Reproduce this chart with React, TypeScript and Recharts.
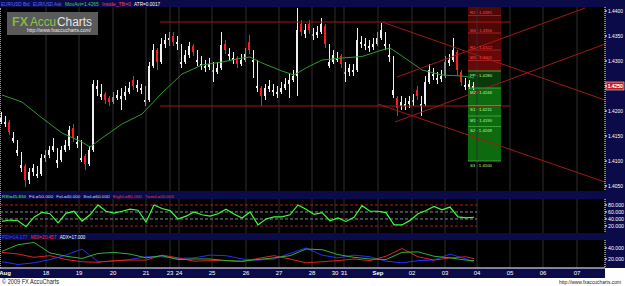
import React from 'react';
import { ComposedChart, Bar, Line, XAxis, YAxis, ReferenceLine, ReferenceArea } from 'recharts';

// 4-hour-ish bars, EUR/USD, Aug 17 - Sep 4 2009
const opens = [
  1.4178, 1.4174, 1.4178, 1.4140, 1.4116, 1.4086, 1.4090, 1.4062, 1.4078, 1.4070,
  1.4074, 1.4106, 1.4112, 1.4122, 1.4096, 1.4102, 1.4122, 1.4130, 1.4166, 1.4134,
  1.4102, 1.4110, 1.4094, 1.4122, 1.4244, 1.4228, 1.4234, 1.4226, 1.4218, 1.4226,
  1.4224, 1.4230, 1.4238, 1.4262, 1.4246, 1.4242, 1.4218, 1.4222, 1.4290, 1.4322,
  1.4298, 1.4334, 1.4342, 1.4350, 1.4334, 1.4294, 1.4298, 1.4312, 1.4330, 1.4298,
  1.4290, 1.4286, 1.4288, 1.4278, 1.4278, 1.4286, 1.4334, 1.4310, 1.4302, 1.4306,
  1.4294, 1.4302, 1.4338, 1.4298, 1.4246, 1.4246, 1.4230, 1.4244, 1.4238, 1.4234,
  1.4238, 1.4246, 1.4254, 1.4262, 1.4270, 1.4374, 1.4354, 1.4374, 1.4350, 1.4352,
  1.4358, 1.4370, 1.4290, 1.4298, 1.4302, 1.4310, 1.4274, 1.4278, 1.4278, 1.4282,
  1.4334, 1.4330, 1.4326, 1.4328, 1.4334, 1.4346, 1.4330, 1.4308, 1.4232, 1.4226,
  1.4210, 1.4210, 1.4214, 1.4218, 1.4242, 1.4210, 1.4214, 1.4258, 1.4270, 1.4262,
  1.4264, 1.4270, 1.4296, 1.4302, 1.4318, 1.4278, 1.4248, 1.4248, 1.4246,
];
const highs = [
  1.4198, 1.4190, 1.4182, 1.4158, 1.4142, 1.4118, 1.4094, 1.4086, 1.4094, 1.4090,
  1.4114, 1.4122, 1.4130, 1.4146, 1.4126, 1.4130, 1.4142, 1.4170, 1.4174, 1.4150,
  1.4142, 1.4114, 1.4130, 1.4262, 1.4262, 1.4254, 1.4238, 1.4230, 1.4238, 1.4242,
  1.4246, 1.4250, 1.4258, 1.4270, 1.4262, 1.4254, 1.4250, 1.4298, 1.4334, 1.4326,
  1.4346, 1.4354, 1.4358, 1.4358, 1.4350, 1.4334, 1.4322, 1.4338, 1.4334, 1.4322,
  1.4310, 1.4302, 1.4306, 1.4298, 1.4298, 1.4358, 1.4342, 1.4326, 1.4318, 1.4310,
  1.4314, 1.4326, 1.4352, 1.4322, 1.4302, 1.4250, 1.4254, 1.4262, 1.4254, 1.4250,
  1.4258, 1.4266, 1.4274, 1.4282, 1.4406, 1.4382, 1.4374, 1.4382, 1.4366, 1.4370,
  1.4386, 1.4374, 1.4334, 1.4322, 1.4318, 1.4314, 1.4298, 1.4294, 1.4294, 1.4366,
  1.4350, 1.4346, 1.4342, 1.4346, 1.4358, 1.4376, 1.4358, 1.4334, 1.4310, 1.4230,
  1.4230, 1.4226, 1.4230, 1.4234, 1.4250, 1.4230, 1.4270, 1.4294, 1.4286, 1.4278,
  1.4282, 1.4310, 1.4314, 1.4346, 1.4322, 1.4282, 1.4266, 1.4262, 1.4258,
];
const lows = [
  1.4174, 1.4168, 1.4152, 1.4136, 1.4110, 1.4078, 1.4048, 1.4054, 1.4070, 1.4066,
  1.4070, 1.4098, 1.4106, 1.4118, 1.4086, 1.4098, 1.4118, 1.4122, 1.4138, 1.4126,
  1.4098, 1.4082, 1.4090, 1.4118, 1.4230, 1.4222, 1.4214, 1.4210, 1.4214, 1.4222,
  1.4202, 1.4222, 1.4234, 1.4242, 1.4238, 1.4234, 1.4210, 1.4218, 1.4286, 1.4282,
  1.4294, 1.4326, 1.4330, 1.4330, 1.4322, 1.4286, 1.4294, 1.4306, 1.4310, 1.4290,
  1.4282, 1.4278, 1.4282, 1.4258, 1.4274, 1.4282, 1.4314, 1.4302, 1.4294, 1.4286,
  1.4290, 1.4298, 1.4314, 1.4266, 1.4238, 1.4210, 1.4222, 1.4238, 1.4230, 1.4226,
  1.4234, 1.4242, 1.4226, 1.4258, 1.4230, 1.4350, 1.4346, 1.4354, 1.4342, 1.4346,
  1.4354, 1.4326, 1.4286, 1.4294, 1.4298, 1.4286, 1.4258, 1.4270, 1.4270, 1.4278,
  1.4326, 1.4322, 1.4318, 1.4322, 1.4330, 1.4342, 1.4322, 1.4298, 1.4226, 1.4190,
  1.4202, 1.4202, 1.4206, 1.4210, 1.4222, 1.4190, 1.4210, 1.4254, 1.4262, 1.4254,
  1.4258, 1.4266, 1.4290, 1.4298, 1.4270, 1.4250, 1.4242, 1.4244, 1.4242,
];
const closes = [
  1.4186, 1.4178, 1.4158, 1.4146, 1.4122, 1.4092, 1.4062, 1.4078, 1.4086, 1.4074,
  1.4106, 1.4112, 1.4122, 1.4130, 1.4102, 1.4122, 1.4132, 1.4162, 1.4146, 1.4138,
  1.4106, 1.4094, 1.4122, 1.4254, 1.4250, 1.4234, 1.4222, 1.4218, 1.4228, 1.4232,
  1.4230, 1.4238, 1.4246, 1.4250, 1.4252, 1.4246, 1.4222, 1.4290, 1.4322, 1.4298,
  1.4334, 1.4342, 1.4346, 1.4338, 1.4338, 1.4298, 1.4312, 1.4330, 1.4318, 1.4302,
  1.4294, 1.4290, 1.4294, 1.4282, 1.4286, 1.4332, 1.4322, 1.4314, 1.4306, 1.4294,
  1.4302, 1.4314, 1.4322, 1.4302, 1.4250, 1.4230, 1.4246, 1.4250, 1.4242, 1.4238,
  1.4246, 1.4254, 1.4262, 1.4270, 1.4362, 1.4358, 1.4362, 1.4362, 1.4354, 1.4358,
  1.4374, 1.4334, 1.4298, 1.4312, 1.4306, 1.4294, 1.4278, 1.4286, 1.4282, 1.4342,
  1.4338, 1.4334, 1.4330, 1.4334, 1.4346, 1.4362, 1.4334, 1.4312, 1.4242, 1.4206,
  1.4218, 1.4214, 1.4220, 1.4222, 1.4230, 1.4214, 1.4258, 1.4282, 1.4274, 1.4266,
  1.4270, 1.4298, 1.4302, 1.4322, 1.4282, 1.4258, 1.4252, 1.4254, 1.4250,
];

// moving average, read at a subset of bars
const maIdx = [0, 5, 10, 15, 20, 22, 25, 30, 35, 40, 45, 50, 55, 60, 62, 65, 70, 73, 76, 80, 85, 90, 95, 97, 100, 105, 110, 115, 118];
const maVals = [
  1.4232, 1.4218, 1.4186, 1.4156, 1.4138, 1.4128, 1.4146, 1.4174, 1.4194, 1.4236,
  1.4274, 1.4292, 1.4298, 1.4306, 1.4308, 1.4296, 1.4280, 1.4272, 1.4286, 1.4302,
  1.4306, 1.4309, 1.4322, 1.4326, 1.4310, 1.4282, 1.4272, 1.4270, 1.4266,
];

// RSI every second bar
const rsiVals = [
  33, 37, 35, 18, 45, 59, 55, 29, 56, 62, 34, 52, 80, 62, 57, 62, 68, 65, 31, 80,
  70, 64, 40, 48, 60, 52, 48, 55, 68, 54, 43, 60, 23, 40, 46, 46, 52, 80, 68, 53,
  58, 35, 43, 33, 45, 78, 62, 62, 58, 23, 23, 36, 55, 64, 76, 66, 74, 46, 43, 45,
];
const rsiIdx = rsiVals.map((_, k) => k * 2);

// directional movement, every fourth bar
const dmiIdx = [0, 4, 8, 12, 16, 20, 24, 28, 32, 36, 40, 44, 48, 52, 56, 60, 64, 68, 72, 76, 80, 84, 88, 92, 96, 100, 104, 108, 112, 116, 118];
const pdiVals = [15, 10, 13, 19, 27, 38, 15, 16, 19, 24, 24, 21, 22, 27, 26, 20, 18, 20, 30, 40, 27, 22, 27, 24, 16, 13, 17, 18, 29, 20, 14];
const mdiVals = [32, 29, 23, 26, 19, 15, 14, 17, 18, 18, 27, 22, 16, 17, 17, 15, 21, 26, 20, 13, 15, 17, 20, 17, 25, 39, 24, 18, 22, 24, 20.5];
const adxVals = [34, 46, 50, 31, 25, 21, 30, 32, 29, 22, 26, 19, 20, 20, 17, 16, 19, 22, 26, 38, 37, 28, 23, 20, 19, 32, 33, 25, 22, 18, 17];

// day labels on the bar axis
const dayTicks = [0.75, 11, 19.25, 27.75, 36, 42, 44.25, 52.5, 61, 69.25, 77.5, 83.25, 85.5, 94, 102.5, 110.75, 118.75, 127, 135.25, 143.75];
const dayLabels = ['Aug', '18', '19', '20', '21', '23', '24', '25', '26', '27', '28', '30', '31', 'Sep', '02', '03', '04', '05', '06', '07'];

const priceTicks = [1.405, 1.41, 1.415, 1.42, 1.425, 1.43, 1.435, 1.44];

// daily pivots for Sep 04
const pivotNames = ['R2', 'M4', 'R1', 'M3', 'PP', 'M2', 'S1', 'M1', 'S2', 'S3'];
const pivotVals = [1.4391, 1.4356, 1.4322, 1.4301, 1.428, 1.4246, 1.4211, 1.419, 1.4169, 1.41];
const pivotSpan = [116.5, 124.75];

// drawn lines: [x1, y1, x2, y2]
const trendLines = [
  [39.5, 1.4378, 127, 1.4378],
  [39.5, 1.421, 127, 1.421],
  [95, 1.4378, 150.75, 1.4222],
  [94, 1.4214, 150.75, 1.4058],
  [98.25, 1.4178, 150.75, 1.4334],
  [98.75, 1.4268, 145.75, 1.4406],
];

// header texts: [text, colour]
const titleParts = [
  ['EUR/USD Bid', '#5a68ff'],
  ['EUR/USD Ask', '#5a68ff'],
  ['MovAvt=1.4265', '#3fd23f'],
  ['Inside_TB=0', '#ff3a6a'],
  ['ATR=0.0017', '#ffffff'],
];
const rsiParts = [
  ['RSI=45.834', '#3cff3c'],
  ['FiL=50.000', '#c8d8ff'],
  ['FoL=40.000', '#c8d8ff'],
  ['SixL=60.000', '#c8d8ff'],
  ['EighL=80.000', '#ff3030'],
  ['TwenL=20.000', '#ff3030'],
];
const dmiParts = [
  ['PDI=14.177', '#3a48ff'],
  ['MDI=20.457', '#ff3030'],
  ['ADX=17.000', '#e8ffe8'],
];

const X_DOMAIN: [number, number] = [-0.5, 150.75];
const NAVY = '#0b0b4a';
const FONT = 'Liberation Sans, Arial, sans-serif';

const pick = (idx: number[], vals: number[], i: number) => {
  const k = idx.indexOf(i);
  return k < 0 ? null : vals[k];
};

const rows = closes.map((c, i) => ({
  i,
  open: opens[i],
  high: highs[i],
  low: lows[i],
  close: c,
  hl: [lows[i], highs[i]],
  ma: pick(maIdx, maVals, i),
  rsi: pick(rsiIdx, rsiVals, i),
  pdi: pick(dmiIdx, pdiVals, i),
  mdi: pick(dmiIdx, mdiVals, i),
  adx: pick(dmiIdx, adxVals, i),
}));
const lastClose = closes[closes.length - 1];

function renderCandle(p: any) {
  const { x, y, width, height, payload } = p;
  if (!payload || !isFinite(y) || !isFinite(height)) return <g />;
  const top = Math.min(y, y + height);
  const h = Math.abs(height);
  const span = payload.high - payload.low;
  const py = (v: number) => top + (span > 0 ? ((payload.high - v) / span) * h : 0);
  const cx = Math.floor(x + width / 2);
  const up = payload.close >= payload.open;
  const col = up ? '#f0f0f0' : '#ff1c1c';
  const b1 = py(Math.max(payload.open, payload.close));
  const b2 = py(Math.min(payload.open, payload.close));
  return (
    <g>
      <rect x={cx} y={top} width={1} height={Math.max(h, 1)} fill={col} />
      <rect x={cx - 1} y={b1} width={2} height={Math.max(b2 - b1, 1)} fill={col} />
    </g>
  );
}

const axisTick = (digits: number, w: number) => (p: any) => (
  <text x={p.x} y={p.y + 2} fill="#fff" fontSize={5.5} fontFamily={FONT} textLength={w} lengthAdjust="spacingAndGlyphs">
    {Number(p.payload.value).toFixed(digits)}
  </text>
);

const dayTick = (p: any) => {
  const label = dayLabels[dayTicks.indexOf(p.payload.value)];
  const bold = label === 'Aug' || label === 'Sep';
  return (
    <text x={p.x} y={p.y + 7} textAnchor="middle" fill="#fff" fontSize={6} fontFamily={FONT} fontWeight={bold ? 'bold' : 'normal'}>
      {label}
    </text>
  );
};

const levelLabel = (text: string, fill: string, above: boolean) => (p: any) => {
  const vb = p.viewBox || {};
  return (
    <text x={vb.x + 2} y={above ? vb.y - 1.2 : vb.y + 5.5} fill={fill} fontSize={4.2} fontFamily={FONT} textLength={22} lengthAdjust="spacingAndGlyphs">
      {text}
    </text>
  );
};

const priceFlag = (p: any) => {
  const vb = p.viewBox || {};
  const x0 = vb.x + vb.width + 1;
  return (
    <g>
      <rect x={x0} y={vb.y - 4} width={18} height={8} fill="#c81818" stroke="#fff" strokeWidth={0.5} />
      <text x={x0 + 1.5} y={vb.y + 2.2} fill="#fff" fontSize={5.5} fontFamily={FONT} textLength={15} lengthAdjust="spacingAndGlyphs">
        {lastClose.toFixed(4)}
      </text>
    </g>
  );
};

// a caption line laid out left to right, each piece squeezed to a fixed pitch per character
const caption = (parts: string[][], x0: number, y: number, pitch: number) => {
  let x = x0;
  const fs = pitch / 0.56;
  return parts.map(([t, c], k) => {
    const w = t.length * pitch;
    const el = (
      <text key={k} x={x} y={y} fill={c} fontSize={fs} fontFamily={FONT} textLength={w} lengthAdjust="spacingAndGlyphs">
        {t}
      </text>
    );
    x += w + pitch * 1.3;
    return el;
  });
};

const dayLines = () =>
  dayTicks.slice(1).map((t) => <ReferenceLine key={'d' + t} x={t} stroke="#2e2e2e" strokeWidth={1} />);

const margin = { top: 0, right: 0, bottom: 0, left: 0 };

const box = (left: number, top: number, width: number, height: number, bg: string): React.CSSProperties => ({
  position: 'absolute', left, top, width, height, background: bg,
});

export default function App() {
  return (
    <div style={{ position: 'relative', width: 625, height: 286, background: '#fff', overflow: 'hidden', fontFamily: FONT }}>
      <style>{'body{margin:0}'}</style>
      <div style={box(0, 0, 625, 7, NAVY)} />
      <div style={box(0, 7, 605, 184, '#000')} />
      <div style={box(0, 191, 625, 8, NAVY)} />
      <div style={box(0, 199, 605, 34, '#000')} />
      <div style={box(0, 233, 625, 7, NAVY)} />
      <div style={box(0, 240, 605, 28, '#000')} />
      <div style={box(605, 7, 20, 261, NAVY)} />
      <div style={box(0, 268, 605, 10, NAVY)} />
      <div style={{ ...box(0, 8, 1, 260, 'transparent'), borderLeft: '1px dotted #999' }} />

      {/* price panel */}
      <div style={{ position: 'absolute', left: 0, top: 7 }}>
        <ComposedChart width={625} height={184} data={rows} margin={margin}>
          <XAxis type="number" dataKey="i" domain={X_DOMAIN} allowDataOverflow hide />
          <YAxis
            orientation="right" width={20} domain={[1.404, 1.4408]} allowDataOverflow
            ticks={priceTicks} interval={0} tick={axisTick(4, 15)} tickSize={2} tickMargin={1}
            axisLine={{ stroke: '#fff', strokeDasharray: '1 1' }} tickLine={{ stroke: '#fff' }}
          />
          {dayLines()}
          <ReferenceArea x1={pivotSpan[0]} x2={pivotSpan[1]} y1={pivotVals[2]} y2={1.4408} fill="#520707" fillOpacity={1} stroke="none" />
          <ReferenceArea x1={pivotSpan[0]} x2={pivotSpan[1]} y1={pivotVals[4]} y2={pivotVals[2]} fill="#680909" fillOpacity={1} stroke="none" />
          <ReferenceArea x1={pivotSpan[0]} x2={pivotSpan[1]} y1={pivotVals[5]} y2={pivotVals[4]} fill="#0a3a0a" fillOpacity={1} stroke="none" />
          <ReferenceArea x1={pivotSpan[0]} x2={pivotSpan[1]} y1={pivotVals[9]} y2={pivotVals[5]} fill="#0e6a0e" fillOpacity={1} stroke="none" />
          <Bar dataKey="hl" barSize={3} shape={renderCandle} isAnimationActive={false} />
          <Line dataKey="ma" stroke="#2f9a2f" strokeWidth={1} dot={false} connectNulls isAnimationActive={false} />
          {trendLines.map((l, k) => (
            <ReferenceLine key={'t' + k} segment={[{ x: l[0], y: l[1] }, { x: l[2], y: l[3] }]} stroke="#a01818" strokeWidth={1} />
          ))}
          {pivotVals.map((v, k) => {
            const upper = k < 4;
            return (
              <ReferenceLine
                key={'p' + k}
                segment={[{ x: pivotSpan[0], y: v }, { x: pivotSpan[1], y: v }]}
                stroke={upper ? '#9a2020' : '#3aa03a'}
                strokeWidth={1}
                label={levelLabel(`${pivotNames[k]} : ${v.toFixed(4)}`, upper ? '#ff4545' : '#a8ffa8', upper)}
              />
            );
          })}
          <ReferenceLine y={lastClose} stroke="none" label={priceFlag} />
        </ComposedChart>
      </div>

      {/* RSI panel */}
      <div style={{ position: 'absolute', left: 0, top: 199 }}>
        <ComposedChart width={625} height={34} data={rows} margin={margin}>
          <XAxis type="number" dataKey="i" domain={X_DOMAIN} allowDataOverflow hide />
          <YAxis
            orientation="right" width={20} domain={[0, 97]} allowDataOverflow
            ticks={[20, 40, 60, 80]} interval={0} tick={axisTick(3, 16)} tickSize={2} tickMargin={1}
            axisLine={{ stroke: '#fff', strokeDasharray: '1 1' }} tickLine={{ stroke: '#fff' }}
          />
          {dayLines()}
          {[80, 60, 40, 20].map((v) => (
            <ReferenceLine
              key={'r' + v}
              segment={[{ x: -0.5, y: v }, { x: 118.75, y: v }]}
              stroke={v === 80 || v === 20 ? '#a02020' : '#8a8a8a'}
              strokeDasharray="3 2"
            />
          ))}
          <Line dataKey="rsi" stroke="#3cff3c" strokeWidth={1.2} dot={false} connectNulls isAnimationActive={false} />
        </ComposedChart>
      </div>

      {/* DMI / ADX panel with date axis */}
      <div style={{ position: 'absolute', left: 0, top: 240 }}>
        <ComposedChart width={625} height={38} data={rows} margin={margin}>
          <XAxis
            type="number" dataKey="i" domain={X_DOMAIN} allowDataOverflow height={10}
            ticks={dayTicks} interval={0} tick={dayTick} tickSize={0} tickMargin={0}
            axisLine={{ stroke: '#fff' }} tickLine={false}
          />
          <YAxis
            orientation="right" width={20} domain={[3.6, 54.5]} allowDataOverflow
            ticks={[20, 40]} interval={0} tick={axisTick(3, 16)} tickSize={2} tickMargin={1}
            axisLine={{ stroke: '#fff', strokeDasharray: '1 1' }} tickLine={{ stroke: '#fff' }}
          />
          {dayLines()}
          <Line dataKey="pdi" stroke="#2430ff" strokeWidth={1} dot={false} connectNulls isAnimationActive={false} />
          <Line dataKey="mdi" stroke="#e02222" strokeWidth={1} dot={false} connectNulls isAnimationActive={false} />
          <Line dataKey="adx" stroke="#34b034" strokeWidth={1} dot={false} connectNulls isAnimationActive={false} />
        </ComposedChart>
      </div>

      {/* captions */}
      <svg width={625} height={286} style={{ position: 'absolute', left: 0, top: 0, pointerEvents: 'none' }}>
        {caption(titleParts, 1, 6, 2.6)}
        {caption(rsiParts, 2, 197.5, 2.4)}
        {caption(dmiParts, 2, 239, 2.55)}

        <rect x={7} y={12} width={91} height={23} fill="#5a5a5a" />
        <text x={12} y={25.5} fontSize={12.5} fontWeight="bold" fontFamily={FONT} fill="#82b83c" textLength={16} lengthAdjust="spacingAndGlyphs">
          FX
        </text>
        <text x={30} y={25.5} fontSize={12} fontFamily={FONT} fill="#8fc24c" textLength={26} lengthAdjust="spacingAndGlyphs">
          Accu
        </text>
        <text x={57} y={25.5} fontSize={12} fontFamily={FONT} fill="#e6e6e6" textLength={35} lengthAdjust="spacingAndGlyphs">
          Charts
        </text>
        <text x={27} y={32} fontSize={4.5} fontFamily={FONT} fill="#e6e6e6" textLength={64} lengthAdjust="spacingAndGlyphs">
          http://www.fxaccucharts.com/
        </text>

        <text x={2} y={284} fontSize={6.5} fontFamily={FONT} fill="#222" textLength={57} lengthAdjust="spacingAndGlyphs">
          © 2009 FX AccuCharts
        </text>
        <text x={559} y={284} fontSize={5} fontFamily={FONT} fill="#222" textLength={62} lengthAdjust="spacingAndGlyphs">
          http://www.fxaccucharts.com
        </text>
      </svg>
    </div>
  );
}
